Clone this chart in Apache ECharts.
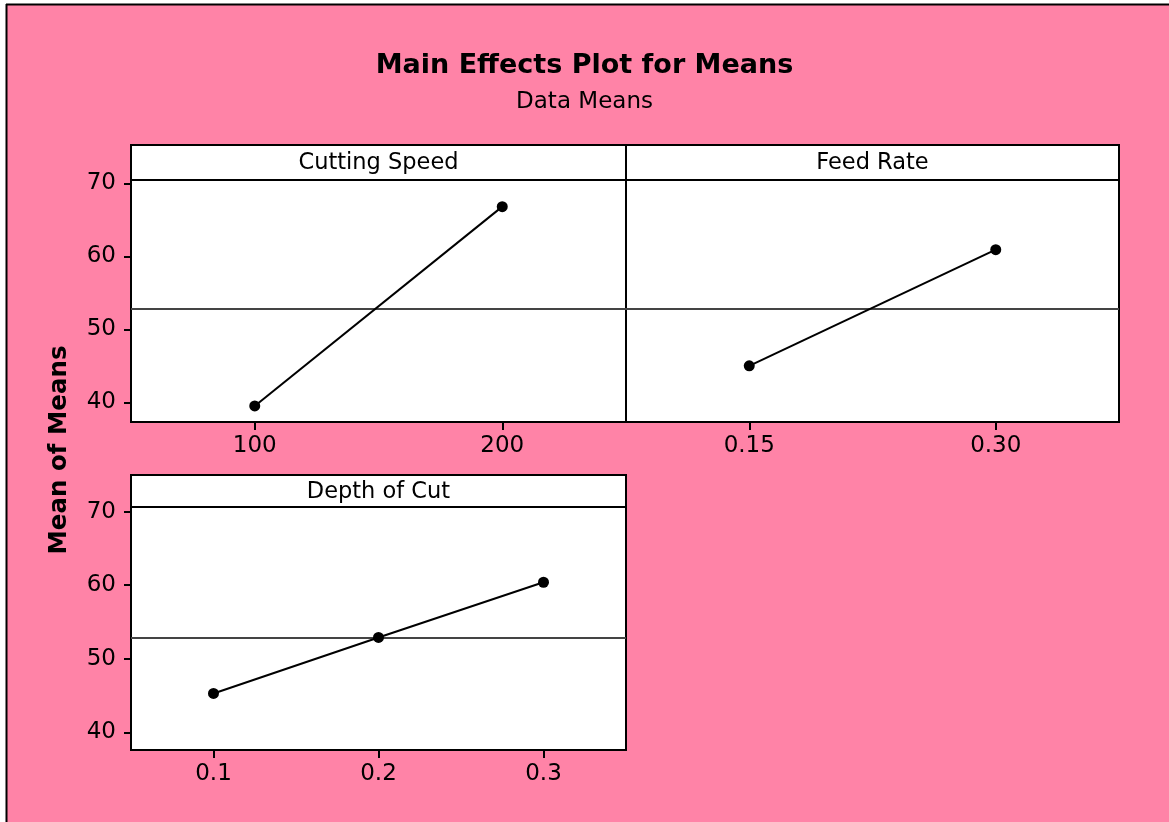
<!DOCTYPE html>
<html>
<head>
<meta charset="utf-8">
<script src="https://cdn.jsdelivr.net/npm/echarts@6/dist/echarts.min.js"></script>
<style>
html,body{margin:0;padding:0;background:#fff;}
#main{width:1169px;height:822px;}
</style>
</head>
<body>
<div id="main"></div>
<script>
// ---- data ----
const chartTitle = 'Main Effects Plot for Means';
const chartSubtitle = 'Data Means';
const yAxisName = 'Mean of Means';
const panelTitles = ['Cutting Speed', 'Feed Rate', 'Depth of Cut'];
const cuttingSpeedLevels = [100, 200];
const cuttingSpeedMeans = [39.5, 66.8];
const feedRateLevels = [0.15, 0.30];
const feedRateMeans = [45.0, 60.9];
const depthLevels = [0.1, 0.2, 0.3];
const depthMeans = [45.3, 52.9, 60.4];
const grandMean = 52.88;
const yTicks = [40, 50, 60, 70];
const cuttingSpeedTicks = [100, 200];
const feedRateTicks = [0.15, 0.30];
const depthTicks = [0.1, 0.2, 0.3];

// ---- style / layout ----
const PINK = '#FF83A7';
const FONT = 'DejaVu Sans';
const panels = [
  {left: 131, top: 180, width: 495, height: 242, stripTop: 145, xMin: 50, xMax: 250, yMin: 37.3, yMax: 70.45, dec: 0, showY: true},
  {left: 626, top: 180, width: 493, height: 242, stripTop: 145, xMin: 0.075, xMax: 0.375, yMin: 37.3, yMax: 70.45, dec: 2, showY: false},
  {left: 131, top: 507, width: 495, height: 243, stripTop: 475, xMin: 0.05, xMax: 0.35, yMin: 37.62, yMax: 70.62, dec: 1, showY: true}
];
const levels = [cuttingSpeedLevels, feedRateLevels, depthLevels];
const means = [cuttingSpeedMeans, feedRateMeans, depthMeans];
const xTicks = [cuttingSpeedTicks, feedRateTicks, depthTicks];

const chart = echarts.init(document.getElementById('main'), null, {renderer: 'canvas'});

const grid = [], xAxis = [], yAxis = [], series = [], graphic = [];

// white outer margin + black frame lines
graphic.push({type: 'rect', shape: {x: 0, y: 0, width: 1169, height: 4}, style: {fill: '#fff'}, silent: true});
graphic.push({type: 'rect', shape: {x: 0, y: 0, width: 6, height: 822}, style: {fill: '#fff'}, silent: true});
graphic.push({type: 'line', shape: {x1: 6, y1: 4.5, x2: 1169, y2: 4.5}, style: {stroke: '#000', lineWidth: 2}, silent: true});
graphic.push({type: 'line', shape: {x1: 6.5, y1: 4, x2: 6.5, y2: 822}, style: {stroke: '#000', lineWidth: 2}, silent: true});

panels.forEach((p, i) => {
  grid.push({
    left: p.left, top: p.top, width: p.width, height: p.height,
    show: true, backgroundColor: '#fff', borderColor: '#000', borderWidth: 2,
    outerBoundsMode: 'none'
  });
  xAxis.push({
    type: 'value', gridIndex: i, min: p.xMin, max: p.xMax,
    axisLine: {show: false},
    splitLine: {show: false},
    axisTick: {show: true, length: 8, lineStyle: {color: '#000', width: 2}, customValues: xTicks[i]},
    axisLabel: {
      show: true, customValues: xTicks[i], color: '#000', fontFamily: FONT, fontSize: 23, margin: 13,
      formatter: (v) => Number(v).toFixed(p.dec)
    }
  });
  yAxis.push({
    type: 'value', gridIndex: i, min: p.yMin, max: p.yMax,
    axisLine: {show: false},
    splitLine: {show: false},
    axisTick: {show: p.showY, length: 7, lineStyle: {color: '#000', width: 2}, customValues: yTicks},
    axisLabel: {show: p.showY, customValues: yTicks, color: '#000', fontFamily: FONT, fontSize: 23, margin: 15}
  });
  series.push({
    type: 'line', xAxisIndex: i, yAxisIndex: i,
    data: levels[i].map((x, k) => [x, means[i][k]]),
    symbol: 'circle', symbolSize: 11,
    itemStyle: {color: '#000'},
    lineStyle: {color: '#000', width: 2},
    z: 5,
    markLine: {
      silent: true, symbol: 'none', label: {show: false},
      lineStyle: {color: '#444', width: 1.8, type: 'solid'},
      data: [{yAxis: grandMean}],
      z: 3
    }
  });
  // strip header
  graphic.push({
    type: 'rect', z: 10,
    shape: {x: p.left, y: p.stripTop, width: p.width, height: p.top - p.stripTop},
    style: {fill: '#fff', stroke: '#000', lineWidth: 2}, silent: true
  });
  graphic.push({
    type: 'text', z: 11,
    x: p.left + p.width / 2, y: (p.stripTop + p.top) / 2 + 1,
    style: {text: panelTitles[i], fill: '#000', font: '22.5px "' + FONT + '"', align: 'center', verticalAlign: 'middle'},
    silent: true
  });
});

// y axis name
graphic.push({
  type: 'text', z: 11, x: 60, y: 450, rotation: Math.PI / 2,
  style: {text: yAxisName, fill: '#000', font: 'bold 24.5px "' + FONT + '"', align: 'center', verticalAlign: 'middle'},
  silent: true
});

chart.setOption({
  backgroundColor: PINK,
  animation: false,
  title: [{
    text: chartTitle, subtext: chartSubtitle, left: 'center', top: 47, itemGap: 12,
    textStyle: {fontFamily: FONT, fontSize: 27, fontWeight: 'bold', color: '#000'},
    subtextStyle: {fontFamily: FONT, fontSize: 23, color: '#000'}
  }],
  grid, xAxis, yAxis, series, graphic
});
</script>
</body>
</html>
